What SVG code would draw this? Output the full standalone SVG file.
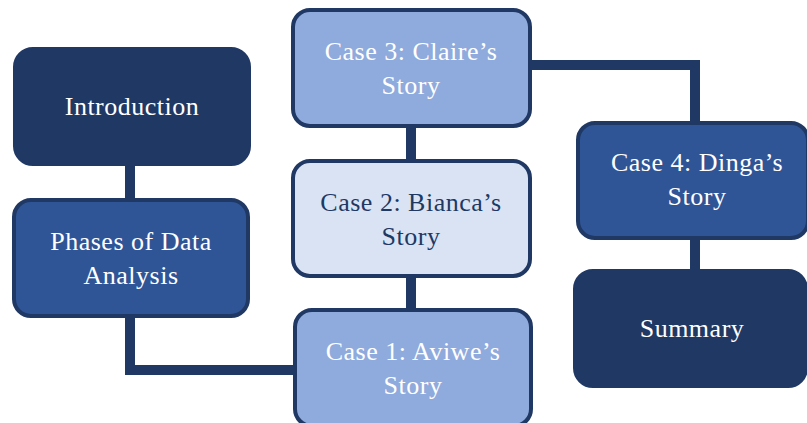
<svg xmlns="http://www.w3.org/2000/svg" width="807" height="423" viewBox="0 0 807 423">
<style>
.box{stroke:#203864;stroke-width:4}
.dark{fill:#203864;stroke:#203864;stroke-width:2}
.mid{fill:#2F5597}
.light{fill:#8FAADC}
.pale{fill:#DAE3F3}
text{font-family:"Liberation Serif","Times New Roman",serif;font-size:26px;letter-spacing:0.5px;text-anchor:middle;fill:#FFFFFF}
text.dk{fill:#203864}
.con{fill:none;stroke:#203864;stroke-width:10}
</style>
<rect width="807" height="423" fill="#FFFFFF"/>
<g id="connectors">
<line class="con" x1="130" y1="160" x2="130" y2="204"/>
<polyline class="con" points="130,310 130,370 300,370"/>
<line class="con" x1="411" y1="120" x2="411" y2="165"/>
<line class="con" x1="411" y1="270" x2="411" y2="314"/>
<polyline class="con" points="525,65 695,65 695,128"/>
<line class="con" x1="695" y1="232" x2="695" y2="275"/>
</g>
<g id="introduction">
<rect class="dark" x="14" y="48" width="236" height="117" rx="19"/>
<text x="132" y="115">Introduction</text>
</g>
<g id="phases">
<rect class="box mid" x="14" y="200" width="234" height="116" rx="17"/>
<text x="131" y="250">Phases of Data</text>
<text x="131" y="284">Analysis</text>
</g>
<g id="case3">
<rect class="box light" x="293" y="10" width="237" height="116" rx="17"/>
<text x="411" y="60">Case 3: Claire’s</text>
<text x="411" y="94">Story</text>
</g>
<g id="case2">
<rect class="box pale" x="293" y="161" width="237" height="115" rx="17"/>
<text class="dk" x="411" y="211">Case 2: Bianca’s</text>
<text class="dk" x="411" y="245">Story</text>
</g>
<g id="case1">
<rect class="box light" x="295" y="310" width="236" height="116" rx="17"/>
<text x="413" y="360">Case 1: Aviwe’s</text>
<text x="413" y="394">Story</text>
</g>
<g id="case4">
<rect class="box mid" x="578" y="123" width="230" height="115" rx="17"/>
<text x="697" y="171">Case 4: Dinga’s</text>
<text x="697" y="205">Story</text>
</g>
<g id="summary">
<rect class="dark" x="574" y="270" width="233" height="117" rx="19"/>
<text x="692" y="337">Summary</text>
</g>
</svg>
